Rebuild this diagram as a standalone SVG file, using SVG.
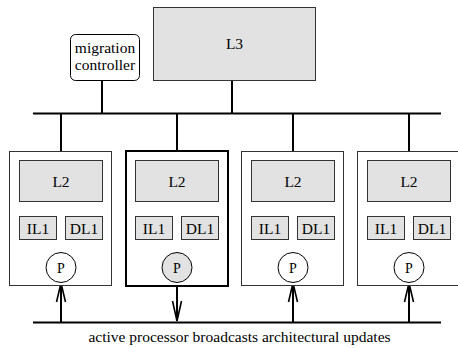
<svg xmlns="http://www.w3.org/2000/svg" width="458" height="348" viewBox="0 0 458 348" font-family="'Liberation Serif', 'DejaVu Serif', serif">
<style>
text{font-family:'Liberation Serif','DejaVu Serif',serif;font-size:15.5px;fill:#000;text-anchor:middle}
.cache{fill:#e2e2e2;stroke:#333;stroke-width:1}
.box{fill:#fff;stroke:#333;stroke-width:1}
.box.active{stroke:#000;stroke-width:2}
.p{fill:#fff;stroke:#000;stroke-width:1}
.p.active{fill:#e2e2e2}
.wire{stroke:#000;stroke-width:2;fill:none}
.head{stroke:#000;stroke-width:1.6;fill:none}
</style>
<g id="connectors">
<line class="wire" x1="33" y1="113.5" x2="441" y2="113.5"/>
<line class="wire" x1="232" y1="81" x2="232" y2="113.5"/>
<line class="wire" x1="102" y1="81" x2="102" y2="113.5"/>
<line class="wire" x1="61" y1="113.5" x2="61" y2="160"/>
<line class="wire" x1="177" y1="113.5" x2="177" y2="160"/>
<line class="wire" x1="293" y1="113.5" x2="293" y2="160"/>
<line class="wire" x1="409" y1="113.5" x2="409" y2="160"/>
<line class="wire" x1="33" y1="322.5" x2="441" y2="322.5"/>
<line class="wire" x1="61" y1="322.5" x2="61" y2="283"/>
<polyline class="head" points="56.5,302 61,283 65.5,302"/>
<line class="wire" x1="177" y1="283" x2="177" y2="321"/>
<polyline class="head" points="172.5,301 177,321 181.5,301"/>
<line class="wire" x1="293" y1="322.5" x2="293" y2="283"/>
<polyline class="head" points="288.5,302 293,283 297.5,302"/>
<line class="wire" x1="409" y1="322.5" x2="409" y2="283"/>
<polyline class="head" points="404.5,302 409,283 413.5,302"/>
</g>
<g id="l3">
<rect class="cache" x="153.5" y="7.5" width="162" height="73"/>
<text x="234.5" y="49">L3</text>
</g>
<g id="migration-controller">
<rect x="70.5" y="34.5" width="69" height="46" rx="5" fill="#fff" stroke="#000" stroke-width="1"/>
<text x="105" y="53">migration</text>
<text x="105" y="69.5">controller</text>
</g>
<g id="proc1">
<rect class="box" x="9.5" y="151.5" width="102" height="134"/>
<rect class="cache" x="19.5" y="160.5" width="83" height="41"/>
<text x="61" y="187">L2</text>
<rect class="cache" x="19.5" y="216.5" width="37" height="23"/>
<text x="38" y="233.5">IL1</text>
<rect class="cache" x="65.5" y="216.5" width="37" height="23"/>
<text x="84" y="233.5">DL1</text>
<circle class="p" cx="61" cy="267.5" r="15"/>
<text x="61" y="272.5" style="font-size:14px">P</text>
</g>
<g id="proc2">
<rect class="box active" x="126" y="151" width="102" height="135"/>
<rect class="cache" x="135.5" y="160.5" width="83" height="41"/>
<text x="177" y="187">L2</text>
<rect class="cache" x="135.5" y="216.5" width="37" height="23"/>
<text x="154" y="233.5">IL1</text>
<rect class="cache" x="181.5" y="216.5" width="37" height="23"/>
<text x="200" y="233.5">DL1</text>
<circle class="p active" cx="177" cy="267.5" r="15"/>
<text x="177" y="272.5" style="font-size:14px">P</text>
</g>
<g id="proc3">
<rect class="box" x="241.5" y="151.5" width="102" height="134"/>
<rect class="cache" x="251.5" y="160.5" width="83" height="41"/>
<text x="293" y="187">L2</text>
<rect class="cache" x="251.5" y="216.5" width="37" height="23"/>
<text x="270" y="233.5">IL1</text>
<rect class="cache" x="297.5" y="216.5" width="37" height="23"/>
<text x="316" y="233.5">DL1</text>
<circle class="p" cx="293" cy="267.5" r="15"/>
<text x="293" y="272.5" style="font-size:14px">P</text>
</g>
<g id="proc4">
<rect class="box" x="357.5" y="151.5" width="102" height="134"/>
<rect class="cache" x="367.5" y="160.5" width="83" height="41"/>
<text x="409" y="187">L2</text>
<rect class="cache" x="367.5" y="216.5" width="37" height="23"/>
<text x="386" y="233.5">IL1</text>
<rect class="cache" x="413.5" y="216.5" width="37" height="23"/>
<text x="432" y="233.5">DL1</text>
<circle class="p" cx="409" cy="267.5" r="15"/>
<text x="409" y="272.5" style="font-size:14px">P</text>
</g>
<g id="bus-label">
<text x="239.5" y="341.5" style="font-size:15.5px">active processor broadcasts architectural updates</text>
</g>
</svg>
